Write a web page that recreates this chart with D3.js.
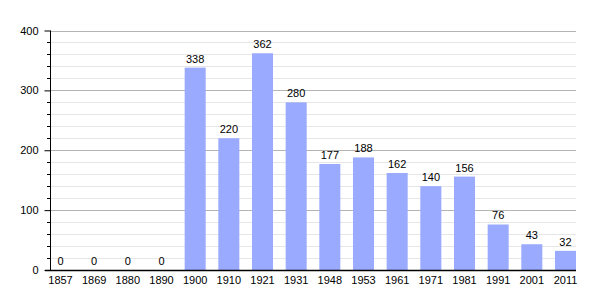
<!DOCTYPE html>
<html><head><meta charset="utf-8">
<script src="https://cdn.jsdelivr.net/npm/d3@7"></script>
<style>body{margin:0;background:#fff}svg{display:block}text{font-family:"Liberation Sans",Arial,sans-serif;font-size:11px;fill:#000}</style>
</head><body><svg id="c" width="605" height="300"></svg>
<script>
const years = ["1857","1869","1880","1890","1900","1910","1921","1931","1948","1953","1961","1971","1981","1991","2001","2011"];
const population = [0,0,0,0,338,220,362,280,177,188,162,140,156,76,43,32];
const yTicks = [0,100,200,300,400];
const yMinor = [20,40,60,80,120,140,160,180,220,240,260,280,320,340,360,380];

const svg = d3.select("#c");
const L = 50, R = 576, T = 30.5, B = 270;
const x = d3.scaleBand().domain(years).range([L, R]).paddingInner(0.376).paddingOuter(0);
const y = d3.scaleLinear().domain([0, 400]).range([B, T]);

// gridlines
svg.append("g").selectAll("line").data(yMinor).join("line")
  .attr("x1", L).attr("x2", R).attr("y1", d => Math.round(y(d)) + 0.5).attr("y2", d => Math.round(y(d)) + 0.5)
  .attr("stroke", "#e6e6e6").attr("stroke-width", 1);
svg.append("g").selectAll("line").data(yTicks.filter(d => d > 0)).join("line")
  .attr("x1", L).attr("x2", R).attr("y1", d => Math.round(y(d)) + 0.5).attr("y2", d => Math.round(y(d)) + 0.5)
  .attr("stroke", "#b4b4b4").attr("stroke-width", 1);

// bars
svg.append("g").selectAll("rect").data(years).join("rect")
  .attr("x", d => x(d)).attr("width", x.bandwidth())
  .attr("y", (d, i) => y(population[i])).attr("height", (d, i) => B - y(population[i]))
  .attr("fill", "#99aaff");

// value labels
svg.append("g").selectAll("text").data(years).join("text")
  .attr("x", d => x(d) + x.bandwidth() / 2)
  .attr("y", (d, i) => y(population[i]) - 5)
  .attr("text-anchor", "middle")
  .text((d, i) => population[i]);

// y axis
const yAxis = d3.axisLeft(y).tickValues(yTicks).tickSize(6).tickPadding(6);
const gy = svg.append("g").attr("transform", `translate(${L + 0.5},0)`).call(yAxis);
gy.select(".domain").remove();
gy.selectAll("text").style("font-size", "11px").style("font-family", null);
gy.selectAll(".tick line").attr("stroke", "#000");
svg.append("g").selectAll("line").data(yMinor).join("line")
  .attr("x1", L - 3).attr("x2", L).attr("y1", d => Math.round(y(d)) + 0.5).attr("y2", d => Math.round(y(d)) + 0.5)
  .attr("stroke", "#000");
svg.append("line").attr("x1", L + 0.5).attr("x2", L + 0.5).attr("y1", T).attr("y2", B).attr("stroke", "#000");

// x axis
const xAxis = d3.axisBottom(x).tickSize(0).tickPadding(6);
const gx = svg.append("g").attr("transform", `translate(0,${B})`).call(xAxis);
gx.select(".domain").remove();
gx.selectAll("text").style("font-size", "11px").style("font-family", null);
svg.append("line").attr("x1", L - 5).attr("x2", R).attr("y1", B + 0.5).attr("y2", B + 0.5).attr("stroke", "#000").attr("stroke-width", 1.5);
</script></body></html>
